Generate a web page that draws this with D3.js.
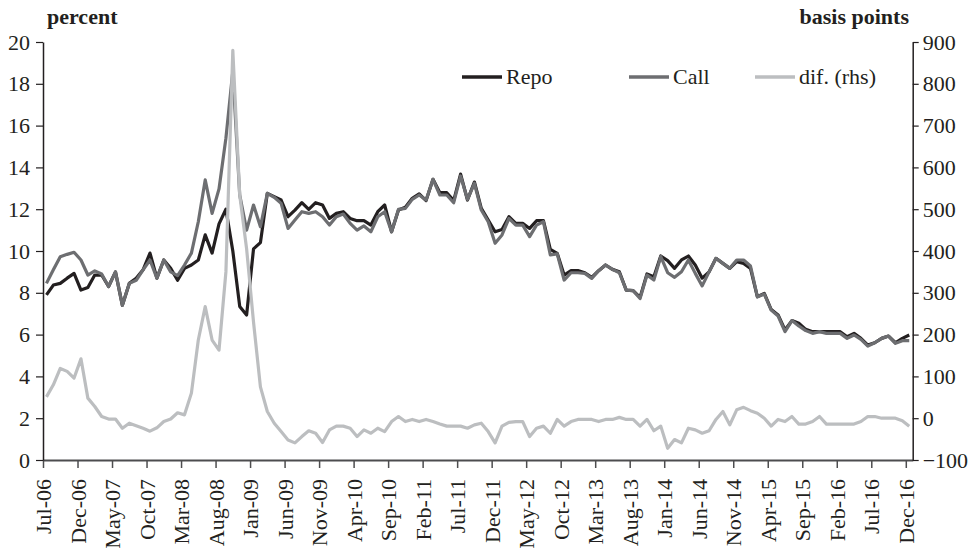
<!DOCTYPE html>
<html>
<head>
<meta charset="utf-8">
<script src="https://cdn.jsdelivr.net/npm/d3@7"></script>
<style>
  body { margin: 0; background: #fff; }
  svg text { font-family: "Liberation Serif", "DejaVu Serif", serif; fill: #231f20; }
</style>
</head>
<body>
<div id="chart"></div>
<script>
// Monthly series, Jul-06 .. Dec-16 (126 months)
const repo = [7.9, 8.37, 8.45, 8.7, 8.93, 8.13, 8.25, 8.85, 8.85, 8.3, 9.0, 7.4, 8.45, 8.7, 9.1, 9.9, 8.7, 9.57, 9.17, 8.6,
  9.17, 9.33, 9.57, 10.77, 9.9, 11.3, 12.0, 10.0, 7.35, 6.94, 10.1, 10.4, 12.76, 12.6, 12.44, 11.64, 11.96, 12.31, 11.99, 12.31,
  12.2, 11.56, 11.8, 11.88, 11.56, 11.45, 11.45, 11.24, 11.88, 12.2, 10.92, 11.96, 12.09, 12.52, 12.73, 12.41, 13.43, 12.79, 12.79, 12.41,
  13.68, 12.44, 13.3, 12.04, 11.48, 10.92, 11.03, 11.64, 11.32, 11.32, 11.08, 11.45, 11.45, 10.08, 9.89, 8.85, 9.06, 9.06, 8.96, 8.74,
  9.06, 9.33, 9.12, 9.01, 8.13, 8.1, 7.78, 8.9, 8.77, 9.76, 9.54, 9.17, 9.57, 9.76, 9.33, 8.7, 9.0, 9.65, 9.41, 9.17,
  9.49, 9.41, 9.17, 7.81, 7.97, 7.2, 6.94, 6.22, 6.67, 6.54, 6.25, 6.14, 6.14, 6.14, 6.14, 6.14, 5.9, 6.06, 5.82, 5.5,
  5.61, 5.82, 5.93, 5.61, 5.82, 5.98];

const call = [8.45, 9.1, 9.73, 9.84, 9.94, 9.57, 8.85, 9.05, 8.9, 8.3, 9.0, 7.4, 8.45, 8.6, 9.1, 9.57, 8.7, 9.57, 9.0, 8.82,
  9.33, 9.9, 11.4, 13.4, 11.8, 12.97, 15.4, 18.6, 12.68, 11.0, 12.2, 11.16, 12.76, 12.57, 12.28, 11.08, 11.48, 11.88, 11.8, 11.88,
  11.64, 11.24, 11.64, 11.77, 11.32, 11.0, 11.2, 10.92, 11.64, 11.88, 10.92, 11.99, 12.04, 12.47, 12.68, 12.44, 13.43, 12.68, 12.68, 12.31,
  13.59, 12.47, 13.24, 11.96, 11.4, 10.37, 10.77, 11.56, 11.24, 11.24, 10.69, 11.24, 11.4, 9.81, 9.86, 8.61, 8.96, 8.96, 8.93, 8.69,
  9.06, 9.33, 9.12, 8.96, 8.13, 8.1, 7.73, 8.85, 8.61, 9.73, 8.96, 8.74, 9.01, 9.57, 8.93, 8.33, 9.0, 9.65, 9.41, 9.17,
  9.57, 9.57, 9.28, 7.81, 7.94, 7.17, 6.89, 6.14, 6.67, 6.41, 6.19, 6.06, 6.14, 6.06, 6.06, 6.06, 5.82, 5.98, 5.77, 5.45,
  5.61, 5.82, 5.93, 5.58, 5.71, 5.71];

// difference, basis points (right axis)
const dif = [51, 80, 119, 112, 96, 142, 48, 28, 4, -2, -2, -24, -12, -18, -24, -31, -23, -8, -2, 13,
  8, 60, 187, 267, 187, 163, 350, 880, 534, 405, 230, 75, 16, -12, -32, -52, -59, -44, -30, -36,
  -58, -28, -19, -19, -24, -44, -28, -36, -24, -32, -8, 4, -8, -3, -8, -3, -8, -14, -19, -19,
  -19, -24, -16, -12, -32, -59, -19, -10, -8, -8, -44, -24, -19, -36, -3, -19, -8, -3, -3, -3,
  -8, -3, -3, 2, -3, -3, -19, -3, -30, -19, -72, -51, -59, -24, -28, -36, -30, -3, 16, -16,
  20, 26, 18, 12, 0, -19, -3, -8, 4, -14, -14, -8, 4, -14, -14, -14, -14, -14, -8, 4,
  4, 0, 0, 0, -6, -19];

const months = d3.timeMonth.range(new Date(2006, 6, 1), new Date(2017, 0, 1));
const fmtMonth = d3.timeFormat("%b-%y");

const seriesNames = ["Repo", "Call", "dif. (rhs)"];
const colors = ["#231f20", "#6d6e71", "#bcbec0"];

const width = 973, height = 551;
const margin = {top: 42, right: 60.3, bottom: 91, left: 43};
const innerW = width - margin.left - margin.right;
const innerH = height - margin.top - margin.bottom;

const svg = d3.select("#chart").append("svg")
    .attr("width", width)
    .attr("height", height);

const g = svg.append("g")
    .attr("transform", `translate(${margin.left},${margin.top})`);

// category axis with ticks between months
const x = d3.scaleLinear().domain([0, months.length]).range([0, innerW]);
const yL = d3.scaleLinear().domain([0, 20]).range([innerH, 0]);
const yR = d3.scaleLinear().domain([-100, 900]).range([innerH, 0]);

// axes
const xAxis = g.append("g")
    .attr("transform", `translate(0,${innerH})`)
    .call(d3.axisBottom(x)
        .tickValues(d3.range(0, months.length, 5))
        .tickFormat(i => fmtMonth(months[i]))
        .tickSize(8)
        .tickSizeOuter(0));
xAxis.select(".domain").attr("stroke", "#4d4d4f").attr("stroke-width", 2);
xAxis.selectAll(".tick line").attr("stroke", "#4d4d4f").attr("stroke-width", 1.5);
xAxis.selectAll("text")
    .attr("font-size", 22)
    .attr("transform", "rotate(-90)")
    .attr("text-anchor", "end")
    .attr("x", -19)
    .attr("y", 0)
    .attr("dy", "0.35em");

const yAxisL = g.append("g")
    .call(d3.axisLeft(yL).tickValues(d3.range(0, 21, 2)).tickSize(7).tickSizeOuter(0).tickPadding(6));
yAxisL.select(".domain").attr("stroke", "#231f20").attr("stroke-width", 1.5);
yAxisL.selectAll(".tick line").attr("stroke", "#231f20").attr("stroke-width", 1.2);
yAxisL.selectAll("text").attr("font-size", 22);

const yAxisR = g.append("g")
    .attr("transform", `translate(${innerW},0)`)
    .call(d3.axisRight(yR).tickValues(d3.range(-100, 901, 100)).tickSize(6).tickSizeOuter(0).tickPadding(4));
yAxisR.select(".domain").attr("stroke", "#231f20").attr("stroke-width", 1.5);
yAxisR.selectAll(".tick line").attr("stroke", "#231f20").attr("stroke-width", 1.2);
yAxisR.selectAll("text").attr("font-size", 22);

// axis unit labels
svg.append("text")
    .attr("x", 47).attr("y", 24)
    .attr("font-size", 22).attr("font-weight", "bold")
    .text("percent");

svg.append("text")
    .attr("x", 909).attr("y", 24)
    .attr("text-anchor", "end")
    .attr("font-size", 22).attr("font-weight", "bold")
    .text("basis points");

// lines
const lineL = d3.line()
    .x((d, i) => x(i + 0.5))
    .y(d => yL(d));
const lineR = d3.line()
    .x((d, i) => x(i + 0.5))
    .y(d => yR(d));

g.append("path").datum(repo)
    .attr("fill", "none").attr("stroke", colors[0]).attr("stroke-width", 3.2)
    .attr("stroke-linejoin", "round")
    .attr("d", lineL);

g.append("path").datum(call)
    .attr("fill", "none").attr("stroke", colors[1]).attr("stroke-width", 3.2)
    .attr("stroke-linejoin", "round")
    .attr("d", lineL);

g.append("path").datum(dif)
    .attr("fill", "none").attr("stroke", colors[2]).attr("stroke-width", 3.2)
    .attr("stroke-linejoin", "round")
    .attr("d", lineR);

// legend
const legendX = [462, 629, 755];
const legend = svg.append("g");
seriesNames.forEach((name, i) => {
    legend.append("line")
        .attr("x1", legendX[i]).attr("x2", legendX[i] + 40)
        .attr("y1", 77).attr("y2", 77)
        .attr("stroke", colors[i]).attr("stroke-width", 3.5);
    legend.append("text")
        .attr("x", legendX[i] + 44).attr("y", 84)
        .attr("font-size", 22)
        .text(name);
});
</script>
</body>
</html>
